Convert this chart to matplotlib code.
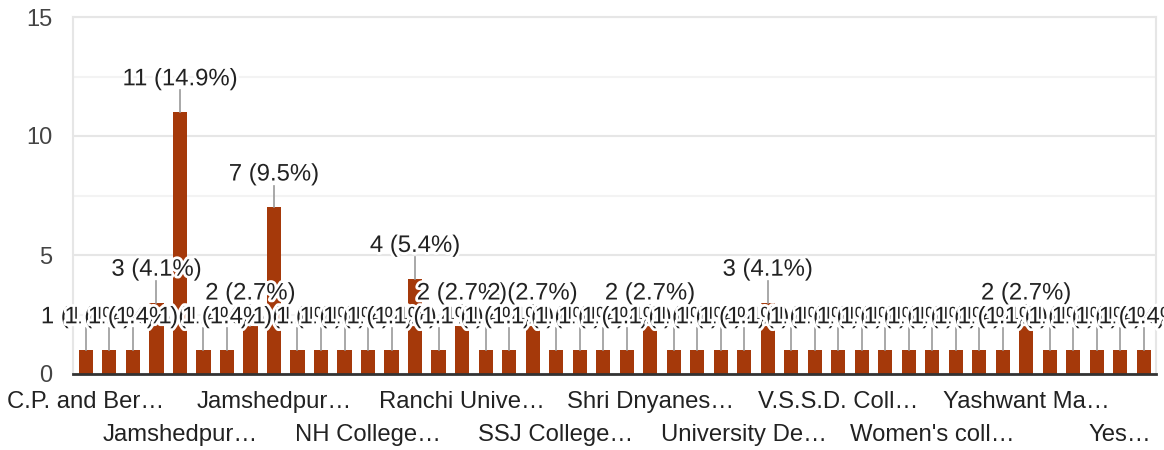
import numpy as np
import matplotlib
matplotlib.use('Agg')
from matplotlib import pyplot as plt
from matplotlib import patheffects as pe

plt.rcParams['font.family'] = ['Liberation Sans', 'DejaVu Sans']

# responses per college (46 answers, only every 4th one gets an axis label)
counts = [1, 1, 1, 3, 11, 1, 1, 2, 7, 1,
          1, 1, 1, 1, 4, 1, 2, 1, 1, 2,
          1, 1, 1, 1, 2, 1, 1, 1, 1, 3,
          1, 1, 1, 1, 1, 1, 1, 1, 1, 1,
          2, 1, 1, 1, 1, 1]
tick_labels = ['C.P. and Ber…', 'Jamshedpur…', 'Jamshedpur…', 'NH College…',
               'Ranchi Unive…', 'SSJ College…', 'Shri Dnyanes…', 'University De…',
               'V.S.S.D. Coll…', "Women's coll…", 'Yashwant Ma…', 'Yes…']
yticks = [0, 5, 10, 15]

bar_color = '#a5390a'
total = sum(counts)
x = np.arange(len(counts))

fig = plt.figure(figsize=(11.64, 4.5), dpi=100)
ax = fig.add_axes([73 / 1164, 76 / 450, 1083 / 1164, 357 / 450])

ax.bar(x, counts, width=0.6, color=bar_color, zorder=2)

# data labels with leader lines, later labels drawn over earlier ones
halo = [pe.withStroke(linewidth=4, foreground='white')]
for i, v in enumerate(counts):
    ax.plot([i, i], [v, v + 0.92], color='#999999', lw=1.2, zorder=3)
    ax.text(i, v + 0.92, f"{v} ({v / total * 100:.1f}%)", ha='center', va='bottom',
            fontsize=17.2, color='#222222', path_effects=halo, zorder=4 + i * 0.01)

ax.set_xlim(-0.55, 45.52)
ax.set_ylim(0, 15)
ax.set_yticks(yticks)
ax.set_yticks([2.5, 7.5, 12.5], minor=True)
ax.grid(axis='y', which='major', color='#e6e6e6', lw=1.5, zorder=0)
ax.grid(axis='y', which='minor', color='#f3f3f3', lw=1.5, zorder=0)
ax.tick_params(axis='y', which='both', length=0, pad=15, labelsize=17, labelcolor='#444444')

ax.set_xticks(x[::4])
ax.set_xticklabels(tick_labels)
ax.tick_params(axis='x', length=0, labelsize=17.2, labelcolor='#222222', pad=12)
for k, t in enumerate(ax.xaxis.get_major_ticks()):
    if k % 2 == 1:
        t.set_pad(36)

for s in ['left', 'right', 'top']:
    ax.spines[s].set_color('#e6e6e6')
    ax.spines[s].set_linewidth(1.5)
ax.spines['bottom'].set_color('#333333')
ax.spines['bottom'].set_linewidth(2)
ax.spines['bottom'].set_zorder(5)

fig.savefig('out.png', dpi=100)
